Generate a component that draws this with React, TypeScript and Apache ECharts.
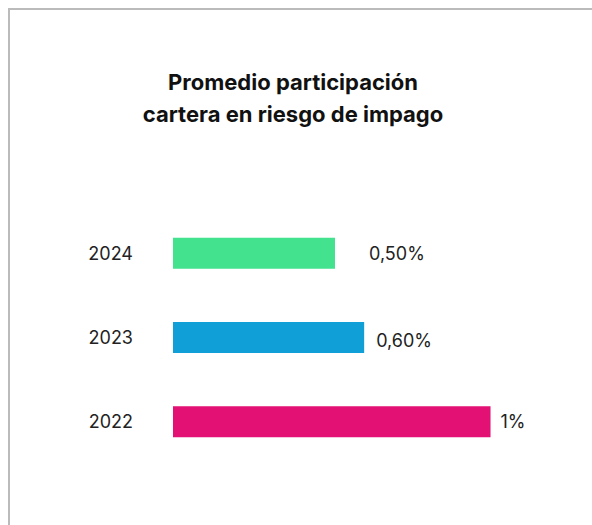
import React, { useEffect, useRef } from "react";
import * as echarts from "echarts";

const categories = ["2022", "2023", "2024"];
const values = [0.98, 0.59, 0.5];
const valueLabels = ["1%", "0,60%", "0,50%"];
const barColors = ["#E31173", "#109FD6", "#42E28E"];
const labelDistances = [10, 12, 34];
const labelOffsets = [[0, 0], [0, 3], [0, 0]];
const titleLines = ["Promedio participación", "cartera en riesgo de impago"];

const FONT = "Inter, 'Noto Sans', sans-serif";

export default function App() {
  const ref = useRef<HTMLDivElement>(null);
  useEffect(() => {
    document.documentElement.style.overflow = "hidden";
    document.body.style.overflow = "hidden";
    if (!ref.current) return;
    const chart = echarts.init(ref.current, undefined, { renderer: "svg" });
    chart.setOption({
      animation: false,
      backgroundColor: "#ffffff",
      textStyle: { fontFamily: FONT },
      graphic: [
        {
          type: "text",
          x: 283,
          y: 56,
          style: {
            text: titleLines.join("\n"),
            textAlign: "center",
            textVerticalAlign: "top",
            font: `bold 22px ${FONT}`,
            lineHeight: 32,
            fill: "#111111",
          },
        },
      ],
      grid: { left: 163, right: 95, top: 201, bottom: 61, containLabel: false },
      xAxis: { type: "value", min: 0, max: 1, show: false },
      yAxis: {
        type: "category",
        data: categories,
        axisLine: { show: false },
        axisTick: { show: false },
        splitLine: { show: false },
        axisLabel: { fontSize: 18, color: "#222222", margin: 40, fontFamily: FONT },
      },
      series: [
        {
          type: "bar",
          barWidth: 31,
          data: values.map((v, i) => ({
            value: v,
            itemStyle: { color: barColors[i] },
            label: {
              show: true,
              position: "right",
              distance: labelDistances[i],
              offset: labelOffsets[i],
              formatter: () => valueLabels[i],
              fontSize: 18,
              color: "#222222",
              fontFamily: FONT,
            },
          })),
        },
      ],
    });
    return () => chart.dispose();
  }, []);
  return (
    <div
      style={{
        position: "fixed",
        top: 8,
        left: 8,
        borderTop: "2px solid #bbbbbb",
        borderLeft: "2px solid #bbbbbb",
        width: 582,
        height: 515,
        overflow: "hidden",
      }}
    >
      <div ref={ref} style={{ width: 582, height: 515 }} />
    </div>
  );
}
